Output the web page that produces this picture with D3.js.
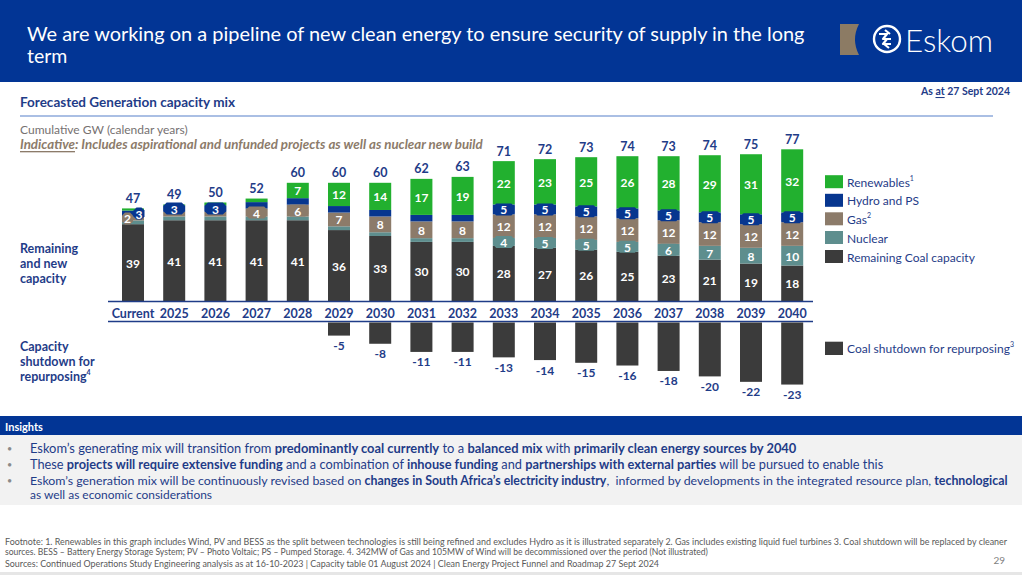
<!DOCTYPE html>
<html><head><meta charset="utf-8">
<script src="https://cdn.jsdelivr.net/npm/d3@7"></script>
<style>body{margin:0;background:#fff;} svg{display:block;font-family:Lato,"Open Sans",sans-serif;}</style>
</head><body><svg id="c" width="1022" height="575"></svg>
<script>
// ---------- DATA ----------
const categories = ["Current","2025","2026","2027","2028","2029","2030","2031","2032","2033","2034","2035","2036","2037","2038","2039","2040"];
const coal       = [39,41,41,41,41,36,33,30,30,28,27,26,25,23,21,19,18];
const nuclear    = [1.9,1.9,1.9,1.9,1.9,1.9,1.9,1.9,1.9,4,5,5,5,6,7,8,10];
const gas        = [2,2.5,2.5,4,6,7,8,8.5,8.5,12,12,12,12,12,12,12,12];
const hydro      = [3,3,3,3.3,3.3,3.3,3.3,3.3,3.3,5,5,5,5,5,5,5,5];
const renewables = [1.1,0.6,1.6,1.8,7.8,11.8,13.8,18.3,19.3,22,23,25,26.5,27.5,29,30.5,32];
const coalLabels       = [39,41,41,41,41,36,33,30,30,28,27,26,25,23,21,19,18];
const nuclearLabels    = [null,null,null,null,null,null,null,null,null,4,5,5,5,6,7,8,10];
const gasLabels        = [2,null,null,4,6,7,8,8,8,12,12,12,12,12,12,12,12];
const hydroLabels      = [3,3,3,null,null,null,null,null,null,5,5,5,5,5,5,5,5];
const renewablesLabels = [null,null,null,null,7,12,14,17,19,22,23,25,26,28,29,31,32];
const totals     = [47,49,50,52,60,60,60,62,63,71,72,73,74,73,74,75,77];
const shutdown   = [0,0,0,0,0,-5,-8,-11,-11,-13,-14,-15,-16,-18,-20,-22,-23];
const seriesNames = ["Renewables","Hydro and PS","Gas","Nuclear","Remaining Coal capacity"];

// ---------- STYLE ----------
const NAVY = "#1f3c88";
const HEADER = "#023595";
const colors = {coal:"#3b3b3b", nuclear:"#5e8e8e", gas:"#8c7b6a", hydro:"#07368f", renewables:"#22b02f"};
const keys = ["coal","nuclear","gas","hydro","renewables"];
const labelArrays = {coal:coalLabels, nuclear:nuclearLabels, gas:gasLabels, hydro:hydroLabels, renewables:renewablesLabels};

const svg = d3.select("#c");
const W = 1022;

function fit(sel, w){
  const l = sel.node().getComputedTextLength();
  const fs = parseFloat(sel.attr("font-size"));
  if (l > 0) sel.attr("font-size", (fs * w / l).toFixed(2));
  return sel;
}
function rich(x, y, parts, size, color, extra){
  const t = svg.append("text").attr("x", x).attr("y", y).attr("font-size", size)
    .attr("fill", color).attr("dominant-baseline","central").style("white-space","pre");
  parts.forEach(p => {
    const ts = t.append("tspan").text(p[0]).attr("font-weight", p[1] ? 700 : 400);
    if (p[2]) ts.attr("text-decoration","underline");
  });
  if (extra) extra(t);
  return t;
}

// ---------- HEADER ----------
svg.append("rect").attr("x",0).attr("y",0).attr("width",W).attr("height",82).attr("fill",HEADER);
fit(svg.append("text").attr("x",27).attr("y",33).attr("dominant-baseline","central").attr("fill","#fff")
  .attr("font-size",20).text("We are working on a pipeline of new clean energy to ensure security of supply in the long"), 778);
svg.append("text").attr("x",27).attr("y",55).attr("dominant-baseline","central").attr("fill","#fff")
  .attr("font-size",19.5).text("term");
svg.append("path").attr("d","M840,24 L859,24 Q851,39.5 859,55 L840,55 Z").attr("fill","#8c7b64");
svg.append("circle").attr("cx",887).attr("cy",39).attr("r",13).attr("fill","none").attr("stroke","#fff").attr("stroke-width",2.4);
svg.append("path").attr("d","M879,34 L887,34 L883,39 L891,39 M891,44 L883,44 L887,39 M885,30 L890,34 M889,48 L884,44")
  .attr("fill","none").attr("stroke","#fff").attr("stroke-width",2.2).attr("stroke-linejoin","round");
fit(svg.append("text").attr("x",905).attr("y",40).attr("dominant-baseline","central").attr("fill","#fff")
  .attr("font-size",30).attr("font-weight",300).text("Eskom"), 88);

// as at
rich(1010, 91, [["As ",1],["at",1,1],[" 27 Sept 2024",1]], 10.5, NAVY, t => t.attr("text-anchor","end"));

// section heading
fit(rich(20, 102, [["Forecasted Generation capacity mix",1]], 12, NAVY), 215);
svg.append("line").attr("x1",20).attr("x2",993).attr("y1",116).attr("y2",116).attr("stroke","#8eaadb").attr("stroke-width",1.5);
fit(rich(20, 129, [["Cumulative GW (calendar years)",0]], 11.5, "#767171"), 168);
fit(rich(20, 144, [["Indicative",1,1],[": Includes aspirational and unfunded projects as well as nuclear new build",1]], 11.5, "#8c7b6a",
  t => t.attr("font-style","italic")), 463);

// ---------- CHART ----------
const x = d3.scaleBand().domain(categories).range([112.4, 812.8]).paddingInner(0.466).paddingOuter(0.233);
const y = d3.scaleLinear().domain([0,80]).range([301, 301 - 80*1.97]);
const yNeg = d3.scaleLinear().domain([0,-25]).range([322, 322 + 25*2.72]);
const bw = x.bandwidth();

const table = categories.map((c,i) => ({cat:c, coal:coal[i], nuclear:nuclear[i], gas:gas[i], hydro:hydro[i], renewables:renewables[i]}));
const stacked = d3.stack().keys(keys)(table);

const g = svg.append("g");
stacked.forEach(s => {
  g.selectAll(null).data(s).join("rect")
    .attr("x", d => x(d.data.cat)).attr("width", bw)
    .attr("y", d => y(d[1])).attr("height", d => y(d[0]) - y(d[1]))
    .attr("fill", colors[s.key]);
});

function octagon(cx, cy, w, h){
  const c = 3;
  const x0 = cx - w/2, x1 = cx + w/2, y0 = cy - h/2, y1 = cy + h/2;
  return `M${x0+c},${y0} L${x1-c},${y0} L${x1},${y0+c} L${x1},${y1-c} L${x1-c},${y1} L${x0+c},${y1} L${x0},${y1-c} L${x0},${y0+c} Z`;
}

const lg = svg.append("g");
stacked.forEach(s => {
  const labs = labelArrays[s.key];
  s.forEach((d, i) => {
    if (labs[i] == null) return;
    const h = y(d[0]) - y(d[1]);
    let cy = (y(d[0]) + y(d[1])) / 2;
    let cx = x(d.data.cat) + bw/2;
    let boxW = bw - 1;
    const crowded = gasLabels[i] != null && hydroLabels[i] != null &&
      gas[i]*1.97 < 13 && hydro[i]*1.97 < 13;
    if (crowded && (s.key === "gas" || s.key === "hydro")) {
      boxW = 11;
      cx += s.key === "gas" ? -5.5 : 6;
    }
    if (h < 13) {
      lg.append("path").attr("d", octagon(cx, cy, boxW, 12)).attr("fill", colors[s.key]);
    }
    lg.append("text").attr("x", cx).attr("y", cy + 0.5).attr("text-anchor","middle").attr("dominant-baseline","central")
      .attr("fill","#fff").attr("font-weight",700).attr("font-size",12).text(labs[i]);
  });
});

// totals
svg.selectAll(null).data(categories).join("text")
  .attr("x", c => x(c) + bw/2).attr("y", (c,i) => y(d3.sum(keys, k => table[i][k])) - 10)
  .attr("text-anchor","middle").attr("dominant-baseline","central")
  .attr("fill", NAVY).attr("font-weight",700).attr("font-size",12.5).text((c,i) => totals[i]);

// axis lines + category labels
svg.append("line").attr("x1",108).attr("x2",813).attr("y1",301.5).attr("y2",301.5).attr("stroke",NAVY).attr("stroke-width",1.5);
svg.append("line").attr("x1",108).attr("x2",813).attr("y1",321.5).attr("y2",321.5).attr("stroke",NAVY).attr("stroke-width",1.5);
svg.selectAll(null).data(categories).join("text")
  .attr("x", c => x(c) + bw/2).attr("y", 313).attr("text-anchor","middle").attr("dominant-baseline","central")
  .attr("fill", NAVY).attr("font-weight",700).attr("font-size",12.5).text(c => c);

// shutdown bars
const sd = categories.map((c,i) => ({cat:c, v:shutdown[i]})).filter(d => d.v !== 0);
svg.selectAll(null).data(sd).join("rect")
  .attr("x", d => x(d.cat)).attr("width", bw)
  .attr("y", yNeg(0) + 0.5).attr("height", d => yNeg(d.v) - yNeg(0) - 0.5)
  .attr("fill", colors.coal);
svg.selectAll(null).data(sd).join("text")
  .attr("x", d => x(d.cat) + bw/2).attr("y", d => yNeg(d.v) + 10)
  .attr("text-anchor","middle").attr("dominant-baseline","central")
  .attr("fill", NAVY).attr("font-weight",700).attr("font-size",12).text(d => d.v);

// left row labels
[["Remaining",248],["and new",263],["capacity",278],["Capacity",346],["shutdown for",361]].forEach(r =>
  rich(20, r[1], [[r[0],1]], 12.5, NAVY));
rich(20, 376, [["repurposing",1]], 12.5, NAVY, t => t.append("tspan").text("4").attr("font-size",7).attr("font-weight",700).attr("dy",-4));

// legend
const legendKeys = ["renewables","hydro","gas","nuclear","coal"];
const legendY = [181.7,200.3,218.8,237.5,256.5];
const sups = ["1",null,"2",null,null];
legendKeys.forEach((k,i) => {
  svg.append("rect").attr("x",825).attr("y",legendY[i]-6.5).attr("width",18).attr("height",13).attr("fill",colors[k]);
  const t = rich(847, legendY[i], [[seriesNames[i],0]], 12, NAVY);
  if (sups[i]) t.append("tspan").text(sups[i]).attr("font-size",7).attr("dy",-4);
});
svg.append("rect").attr("x",825).attr("y",341.7).attr("width",18).attr("height",13.3).attr("fill",colors.coal);
rich(847, 348.3, [["Coal shutdown for repurposing",0]], 12, NAVY, t => t.append("tspan").text("3").attr("font-size",7).attr("dy",-4));

// ---------- INSIGHTS ----------
svg.append("rect").attr("x",0).attr("y",416).attr("width",W).attr("height",19).attr("fill",HEADER);
rich(5, 425.5, [["Insights",1]], 11, "#fff");
svg.append("rect").attr("x",0).attr("y",435).attr("width",W).attr("height",70).attr("fill","#f2f2f2");
const insightLines = [
  {y:448, w:767, bullet:true, parts:[["Eskom’s generating mix will transition from ",0],["predominantly coal currently",1],[" to a ",0],["balanced mix",1],[" with ",0],["primarily clean energy sources by 2040",1]]},
  {y:464, w:854, bullet:true, parts:[["These ",0],["projects will require extensive funding",1],[" and a combination of ",0],["inhouse funding",1],[" and ",0],["partnerships with external parties",1],[" will be pursued to enable this",0]]},
  {y:480, w:978, bullet:true, parts:[["Eskom’s generation mix will be continuously revised based on ",0],["changes in South Africa’s electricity industry",1],[",  informed by developments in the integrated resource plan, ",0],["technological",1]]},
  {y:494, w:182, bullet:false, parts:[["as well as economic considerations",0]]}
];
insightLines.forEach(l => {
  if (l.bullet) svg.append("text").attr("x",7).attr("y",l.y).attr("dominant-baseline","central").attr("fill","#8a8a8a").attr("font-size",9).text("•");
  fit(rich(30, l.y, l.parts, 11.5, NAVY), l.w);
});

// ---------- FOOTNOTE ----------
const footLines = [
  {y:541, w:1003, t:"Footnote: 1. Renewables in this graph includes Wind, PV and BESS as the split between technologies is still being refined and excludes Hydro as it is illustrated separately 2. Gas includes existing liquid fuel turbines 3. Coal shutdown will be replaced by cleaner"},
  {y:552, w:703, t:"sources. BESS – Battery Energy Storage System; PV – Photo Voltaic; PS – Pumped Storage. 4. 342MW of Gas and 105MW of Wind will be decommissioned over the period (Not illustrated)"},
  {y:563, w:655, t:"Sources: Continued Operations Study Engineering analysis as at 16-10-2023 | Capacity table 01 August 2024 | Clean Energy Project Funnel and Roadmap 27 Sept 2024"}
];
footLines.forEach(l => fit(rich(5, l.y, [[l.t,0]], 9, "#595959"), l.w));
svg.append("text").attr("x",1005).attr("y",560).attr("text-anchor","end").attr("dominant-baseline","central")
  .attr("fill","#7f7f7f").attr("font-size",10).text("29");
svg.append("rect").attr("x",0).attr("y",572).attr("width",W).attr("height",3).attr("fill","#e6e6e6");
</script>
</body></html>
